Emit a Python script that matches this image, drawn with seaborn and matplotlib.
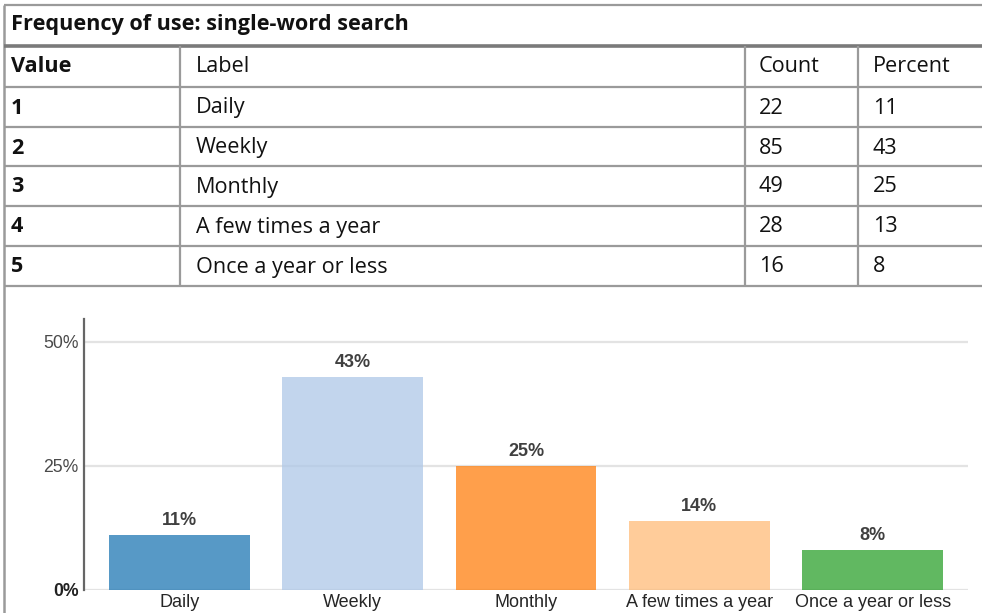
import matplotlib
matplotlib.use("Agg")
import matplotlib.pyplot as plt
import seaborn as sns
import pandas as pd

# Survey responses: frequency of using single-word search
values = [1, 2, 3, 4, 5]
labels = ["Daily", "Weekly", "Monthly", "A few times a year", "Once a year or less"]
counts = [22, 85, 49, 28, 16]
table_percent = [11, 43, 25, 13, 8]
chart_percent = [11, 43, 25, 14, 8]
title = "Frequency of use: single-word search"
header = ["Value", "Label", "Count", "Percent"]
y_ticks = [0, 25, 50]

bar_colors = ["#1f77b4", "#aec7e8", "#ff7f0e", "#ffbb78", "#2ca02c"]

sns.set_theme(style="white")

W, H = 982, 613
fig = plt.figure(figsize=(W / 100, H / 100), dpi=100)

# ---- table drawn in pixel coordinates ----
tab = fig.add_axes([0, 0, 1, 1])
tab.set_xlim(0, W)
tab.set_ylim(H, 0)
tab.axis("off")

border = "#9a9a9a"
row_lines = [46, 87, 127, 166, 206, 246, 286]
col_x = [4, 180, 745, 858]
text_x = [11, 196, 759, 873]

tab.plot([4, W], [5, 5], color=border, lw=1.6, solid_capstyle="butt")
tab.plot([4, 4], [5, H], color=border, lw=1.8, solid_capstyle="butt")
tab.plot([4, W], [46, 46], color="#7a7a7a", lw=2.6, solid_capstyle="butt")
for y in row_lines[1:]:
    tab.plot([4, W], [y, y], color=border, lw=1.6, solid_capstyle="butt")
for x in col_x[1:]:
    tab.plot([x, x], [46, 286], color=border, lw=1.6, solid_capstyle="butt")

tfont = dict(family=["Open Sans", "DejaVu Sans"], fontsize=15.6, color="#111111", va="baseline")
tab.text(11, 30, title, fontweight="bold", **tfont)
for j, h in enumerate(header):
    tab.text(text_x[j], row_lines[0] + 25.5, h,
             fontweight="bold" if j == 0 else "normal", **tfont)
for i in range(len(values)):
    base = row_lines[i + 1] + 26.5
    row = [str(values[i]), labels[i], str(counts[i]), str(table_percent[i])]
    for j, cell in enumerate(row):
        tab.text(text_x[j], base, cell,
                 fontweight="bold" if j == 0 else "normal", **tfont)

# ---- bar chart ----
ax_l, ax_r, ax_b, ax_t = 84, 968, 590, 319
ax = fig.add_axes([ax_l / W, 1 - ax_b / H, (ax_r - ax_l) / W, (ax_b - ax_t) / H])
ax.set_facecolor("none")

df = pd.DataFrame({"label": labels, "percent": chart_percent})
sns.barplot(data=df, x="label", y="percent", hue="label", palette=bar_colors,
            order=labels, hue_order=labels, saturation=1, width=0.81,
            alpha=0.75, linewidth=0, legend=False, ax=ax, zorder=2)

ax.set_ylim(0, 54.6)
ax.set_xlim(-0.55, len(labels) - 0.45)
for t in y_ticks:
    ax.axhline(t, color="#e3e3e3", lw=1.6, zorder=1)

for i, p in enumerate(chart_percent):
    ax.text(i, p + 1.2, f"{p}%", ha="center", va="bottom",
            family="Liberation Sans", fontweight="bold", fontsize=13, color="#404040")

ax.set_yticks(y_ticks)
ax.set_yticklabels([f"{t}%" for t in y_ticks])
ax.set_xlabel("")
ax.set_ylabel("")
ax.tick_params(axis="y", length=0, pad=4, labelsize=12.7, labelcolor="#4a4a4a")
ax.tick_params(axis="x", length=0, pad=3, labelsize=13, labelcolor="#262626")
for lab in ax.get_yticklabels() + ax.get_xticklabels():
    lab.set_family("Liberation Sans")
ax.get_yticklabels()[0].set_fontweight("bold")
ax.get_yticklabels()[0].set_color("#222222")

for s in ["top", "right", "bottom"]:
    ax.spines[s].set_visible(False)
ax.spines["left"].set_color("#666666")
ax.spines["left"].set_linewidth(1.6)

fig.savefig("out.png", dpi=100)
